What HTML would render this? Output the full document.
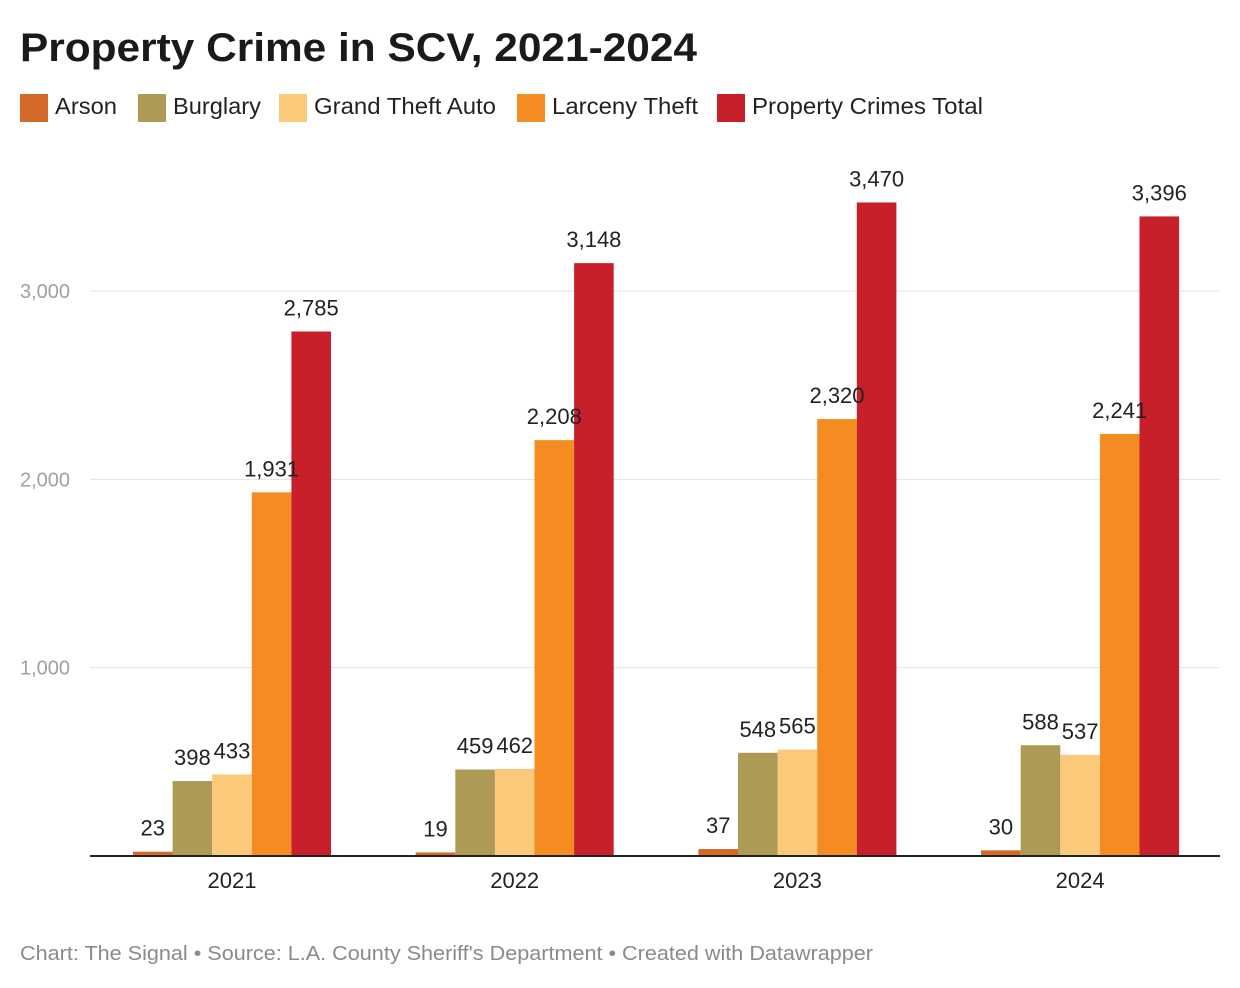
<!DOCTYPE html>
<html><head><meta charset="utf-8"><style>
body{margin:0;background:#fff;font-family:"Liberation Sans",sans-serif;}
svg{display:block}
</style></head><body>
<svg width="1240" height="988" xmlns="http://www.w3.org/2000/svg">
<text x="20" y="61" font-size="40" font-weight="bold" fill="#1a1a1a" textLength="677" lengthAdjust="spacingAndGlyphs">Property Crime in SCV, 2021-2024</text>
<g id="legend"></g>
<g id="grid"></g>
<g id="bars"></g>
<g id="labels"></g>
<line x1="90" x2="1220" y1="856" y2="856" stroke="#222" stroke-width="2"/>
<text x="20" y="960" font-size="20" fill="#8a8a8a" textLength="853" lengthAdjust="spacingAndGlyphs">Chart: The Signal • Source: L.A. County Sheriff's Department • Created with Datawrapper</text>
</svg>
<script>
const years=["2021","2022","2023","2024"];
const seriesNames=["Arson","Burglary","Grand Theft Auto","Larceny Theft","Property Crimes Total"];
const arson=[23,19,37,30];
const burglary=[398,459,548,588];
const gta=[433,462,565,537];
const larceny=[1931,2208,2320,2241];
const total=[2785,3148,3470,3396];
const yTicks=[1000,2000,3000];
const colors=["#d4692a","#ad9a55","#fbc97a","#f48c22","#c8202a"];
const series=[arson,burglary,gta,larceny,total];
const NS="http://www.w3.org/2000/svg";
const y0=856,pxPer=(856-291)/3000;
const yS=v=>y0-v*pxPer;
const gx0=133,gStep=282.7,bw=39.6;
function mk(tag,attrs,parent,txt){const e=document.createElementNS(NS,tag);for(const k in attrs)e.setAttribute(k,attrs[k]);if(txt!==undefined)e.textContent=txt;parent.appendChild(e);return e;}
const grid=document.getElementById('grid');
yTicks.forEach(t=>{
 const l=mk('line',{x1:90,x2:1220,y1:yS(t),y2:yS(t),stroke:'#e2e2e2','stroke-width':1},grid);
 
 
 const tx=mk('text',{x:20,y:yS(t)+7,'font-size':20,fill:'#a0a0a0'},grid,t.toLocaleString('en-US'));
 
 
});
const leg=document.getElementById('legend');
const legX=[20,138,279,517,717];
const legTW=[62,88,182,146,231];
seriesNames.forEach((n,i)=>{
 const lx=legX[i];
 const r=mk('rect',{x:lx,y:94,width:28,height:28,fill:colors[i]},leg);
 
 
 const t=mk('text',{x:lx+35,y:114,'font-size':23,fill:'#222',textLength:legTW[i],lengthAdjust:'spacingAndGlyphs'},leg,n);
 
 
});
const bars=document.getElementById('bars');
const labels=document.getElementById('labels');
years.forEach((yr,g)=>{
 const gx=gx0+g*gStep;
 series.forEach((s,i)=>{
  const v=s[g];const x=gx+i*bw;
  const r=mk('rect',{x:x,y:yS(v),width:bw,height:v*pxPer,fill:colors[i]},bars);
  
  
  const t=mk('text',{x:x+bw/2,y:yS(v)-16,'font-size':22,fill:'#222','text-anchor':'middle'},labels,v.toLocaleString('en-US'));
  
  
 });
 const xl=mk('text',{x:gx+bw*2.5,y:888,'font-size':22,fill:'#222','text-anchor':'middle'},labels,yr);
 
 
});
</script>
</body></html>
